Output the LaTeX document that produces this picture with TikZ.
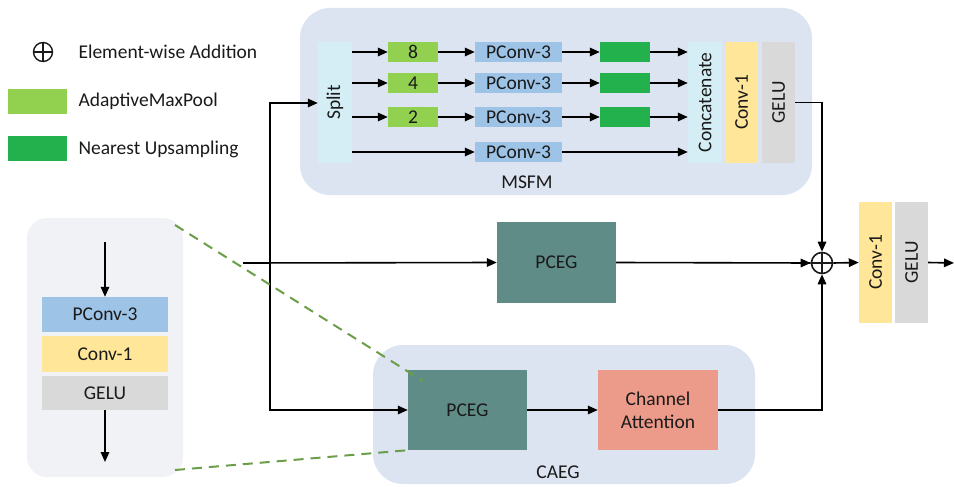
\documentclass[tikz,border=0pt]{standalone}
\usepackage{fontspec}
\setmainfont{Carlito}
\usetikzlibrary{arrows.meta,calc}
\definecolor{regionblue}{HTML}{DCE3F1}
\definecolor{panelgray}{HTML}{F0F2F5}
\definecolor{pconvblue}{HTML}{9DC3E6}
\definecolor{convyellow}{HTML}{FFE699}
\definecolor{gelugray}{HTML}{D9D9D9}
\definecolor{poolgreen}{HTML}{92D050}
\definecolor{upgreen}{HTML}{22B14C}
\definecolor{splitcyan}{HTML}{D5EEF5}
\definecolor{pcegteal}{HTML}{5F8C87}
\definecolor{casalmon}{HTML}{EC9A89}
\definecolor{dashgreen}{HTML}{6A9E48}
\definecolor{txt}{HTML}{1A1A1A}
\begin{document}
\begin{tikzpicture}[x=1pt,y=-1pt,
  font=\fontsize{19.5}{21}\selectfont, text=txt,
  box/.style={rectangle,inner sep=0pt,draw=none},
  arr/.style={line width=1.6pt,-{Triangle[length=10pt,width=8.5pt]}},
  ln/.style={line width=1.6pt},
  region/.style={rounded corners=30pt,fill=regionblue},
]
\useasboundingbox (0,0) rectangle (954,487);
% regions
\fill[region] (300,8) rectangle (812,195);
\fill[region] (373,345) rectangle (755,484);
\fill[panelgray,rounded corners=20pt] (27,218) rectangle (183,477);

% legend
\node[circle,draw=txt,line width=1.4pt,minimum size=19pt,inner sep=0pt] (leg) at (43,52) {};
\draw[line width=1.4pt,txt] (leg.north)--(leg.south) (leg.west)--(leg.east);
\node[anchor=west] (legt1) at (75,52) {Element-wise Addition};
\node[box,fill=poolgreen,minimum width=59pt,minimum height=25pt] (legp) at (37.5,101.5) {};
\node[anchor=west] (legt2) at (75,101) {AdaptiveMaxPool};
\node[box,fill=upgreen,minimum width=59pt,minimum height=25pt] (legu) at (37.5,148) {};
\node[anchor=west] (legt3) at (75,149) {Nearest Upsampling};

% MSFM
\node[box,fill=splitcyan,minimum width=34pt,minimum height=121pt] (split) at (335,102.5) {\rotatebox{90}{Split}};
\node[box,fill=splitcyan,minimum width=34pt,minimum height=121pt] (concat) at (705,102.5) {\rotatebox{90}{Concatenate}};
\node[box,fill=convyellow,minimum width=33pt,minimum height=121pt] (conv1m) at (741.5,102.5) {\rotatebox{90}{Conv-1}};
\node[box,fill=gelugray,minimum width=33pt,minimum height=121pt] (gelum) at (778.5,102.5) {\rotatebox{90}{GELU}};
\foreach \i/\y/\t in {1/52/8,2/83/4,3/117/2}{
  \node[box,fill=poolgreen,minimum width=50pt,minimum height=20pt] (p\i) at (413,\y) {\t};
  \node[box,fill=pconvblue,minimum width=87pt,minimum height=20pt] (pc\i) at (518.5,\y) {PConv-3};
  \node[box,fill=upgreen,minimum width=50pt,minimum height=20pt] (u\i) at (625,\y) {};
  \draw[arr] (split.east |- p\i) -- (p\i.west);
  \draw[arr] (p\i.east) -- (pc\i.west);
  \draw[arr] (pc\i.east) -- (u\i.west);
  \draw[arr] (u\i.east) -- (concat.west |- u\i);
}
\node[box,fill=pconvblue,minimum width=87pt,minimum height=20pt] (pc4) at (518.5,152) {PConv-3};
\draw[arr] (split.east |- pc4) -- (pc4.west);
\draw[arr] (pc4.east) -- (concat.west |- pc4);
\node (msfm) at (527,182) {MSFM};

% middle
\coordinate (in) at (243,263);
\coordinate (j) at (270,263);
\coordinate (jt) at (270,103);
\node[box,fill=pcegteal,minimum width=119pt,minimum height=81pt] (pcegm) at (556.5,262.5) {PCEG};
\node[circle,draw=txt,line width=1.6pt,minimum size=21pt,inner sep=0pt] (add) at (822,263) {};
\draw[line width=1.6pt,txt] (add.north)--(add.south) (add.west)--(add.east);
\draw[arr] (in) -- (pcegm.west);
\draw[ln] (pcegm.east) -- (add.west);
\draw[arr] ($(add.west)+(-12,0)$) -- (add.west);
\draw[arr] (j) |- (split.west |- jt);
\draw[arr] (gelum.east) -| (add.north);

% CAEG
\node[box,fill=pcegteal,minimum width=119pt,minimum height=80pt] (pcegb) at (467.5,410) {PCEG};
\node[box,fill=casalmon,minimum width=120pt,minimum height=80pt,align=center] (ca) at (658,410) {Channel\\[2pt]Attention};
\draw[arr] (j) |- (pcegb.west);
\draw[arr] (pcegb.east) -- (ca.west);
\draw[arr] (ca.east) -| (add.south);
\node (caeg) at (558,472) {CAEG};

% output
\node[box,fill=convyellow,minimum width=33pt,minimum height=121pt] (conv1o) at (875.5,262.5) {\rotatebox{90}{Conv-1}};
\node[box,fill=gelugray,minimum width=33pt,minimum height=121pt] (geluo) at (911.5,262.5) {\rotatebox{90}{GELU}};
\coordinate (out) at (954,263);
\draw[arr] (add.east) -- (conv1o.west);
\draw[arr] (geluo.east) -- (out);

% left detail panel
\node[box,fill=pconvblue,minimum width=126pt,minimum height=35pt] (lp1) at (105,314.5) {PConv-3};
\node[box,fill=convyellow,minimum width=126pt,minimum height=36pt] (lp2) at (105,354) {Conv-1};
\node[box,fill=gelugray,minimum width=126pt,minimum height=34pt] (lp3) at (105,393) {GELU};
\coordinate (lt) at (105,242);
\coordinate (lb) at (105,462);
\draw[arr] (lt) -- (lp1.north);
\draw[arr] (lp3.south) -- (lb);

% zoom dashed lines
\coordinate (d1) at (175,225);
\coordinate (d2) at (175,470);
\coordinate (e1) at (423,381);
\draw[dashgreen,line width=2pt,dash pattern=on 10pt off 7pt] (d1) -- (e1);
\draw[dashgreen,line width=2pt,dash pattern=on 10pt off 7pt] (d2) -- (pcegb.south west);
\end{tikzpicture}
\end{document}
